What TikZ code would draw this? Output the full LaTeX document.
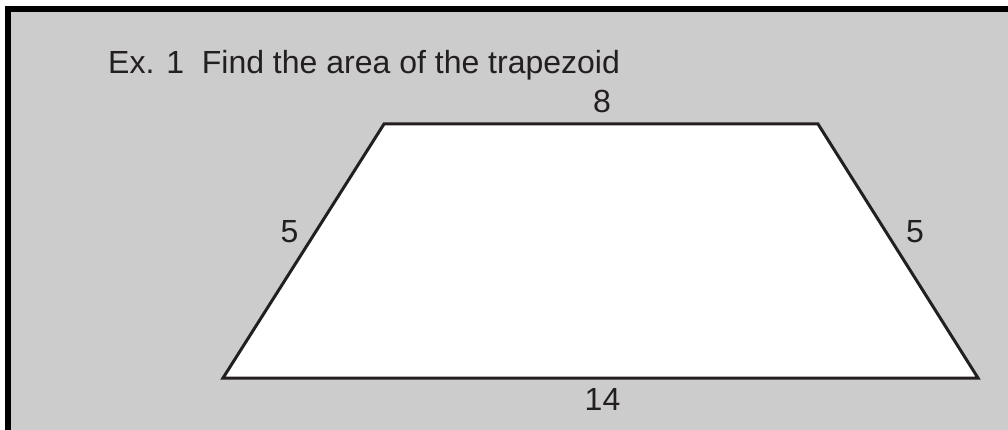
\documentclass[tikz,border=0pt]{standalone}
\usepackage{fontspec}
\setmainfont{Liberation Sans}
\definecolor{bggray}{HTML}{CCCCCC}
\definecolor{ink}{HTML}{231F20}
\begin{document}
\begin{tikzpicture}[x=1pt,y=-1pt,
  lbl/.style={inner sep=0pt,text=ink,font=\fontsize{32}{38}\selectfont},
  trapline/.style={draw=ink,line width=3pt,fill=white,line join=miter}]
\useasboundingbox (0,0) rectangle (1008,430);
\clip (0,0) rectangle (1008,430);
\fill[white] (0,0) rectangle (1008,430);
\draw[fill=bggray,line width=6pt] (8,9.5) rectangle (1030,450);
\node[lbl,anchor=base west] (title) at (108,74) {Ex. 1\ \ Find the area of the trapezoid};
\coordinate (tl) at (384,124);
\coordinate (tr) at (818,124);
\coordinate (br) at (978,378);
\coordinate (bl) at (223,378);
\draw[trapline] (tl) -- (tr) -- (br) -- (bl) -- cycle;
\node[lbl] (top) at (602,101.5) {8};
\node[lbl] (left) at (289.5,231.5) {5};
\node[lbl] (right) at (915,231.5) {5};
\node[lbl] (bottom) at (602.5,399) {14};
\end{tikzpicture}
\end{document}
